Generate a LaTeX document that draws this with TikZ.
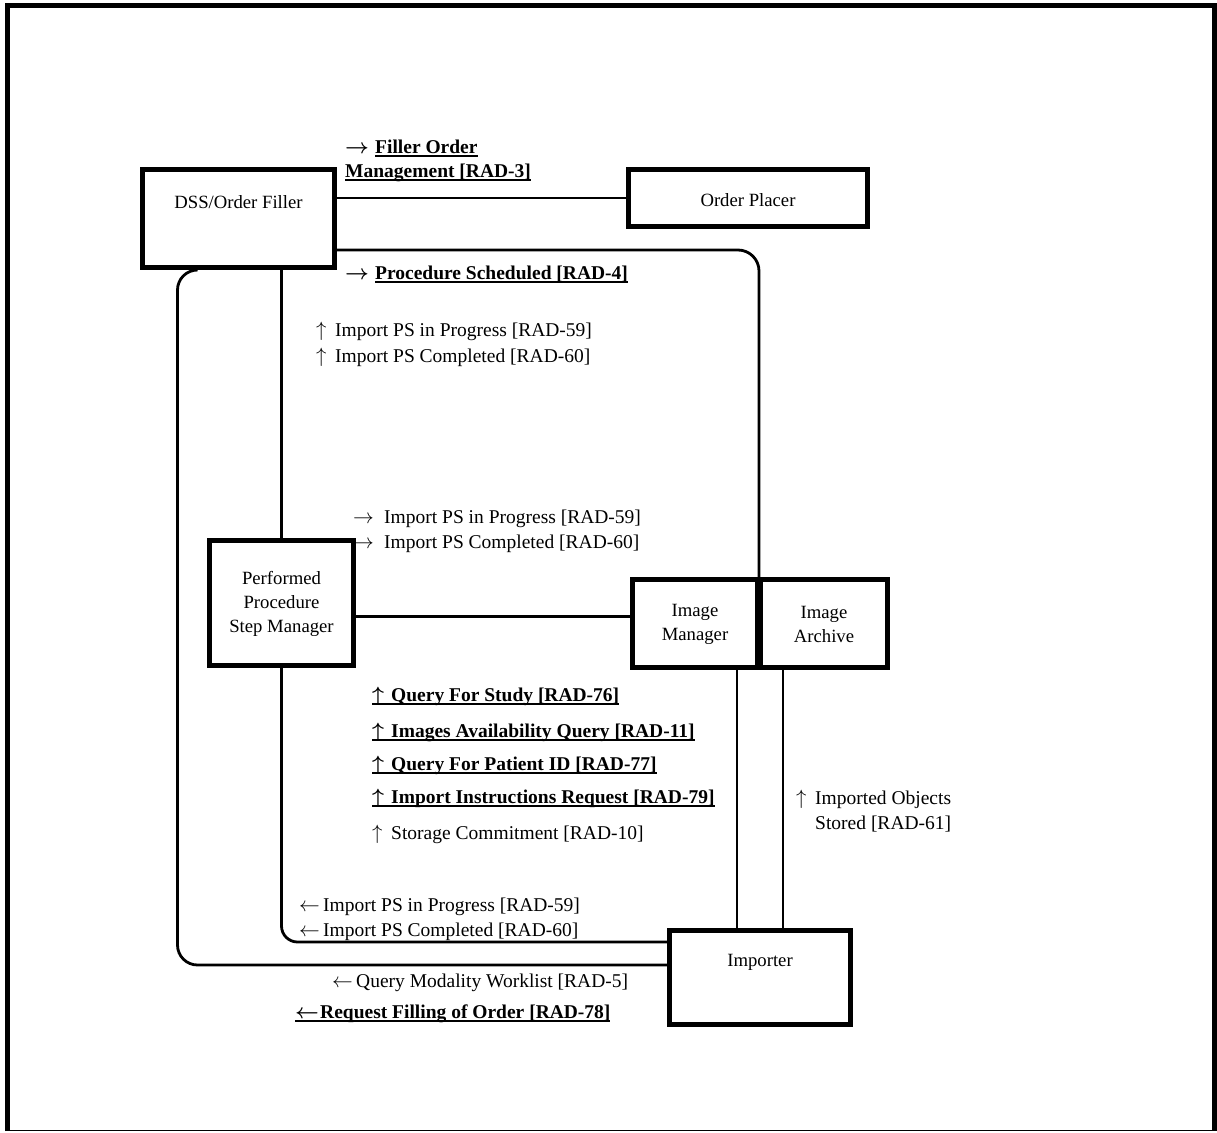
\documentclass[tikz,border=0pt]{standalone}
\usepackage{fontspec}
\setmainfont{Liberation Serif}
\usetikzlibrary{calc}
\newcommand\myul[1]{\setbox0\hbox{#1}\rlap{\rule[-3.2pt]{\wd0}{1.5pt}}\box0}
\newcommand\ra{$\rightarrow$}
\newcommand\la{$\leftarrow$}
\newcommand\ua{$\uparrow$}
\begin{document}
\begin{tikzpicture}[x=1pt,y=-1pt,
  box/.style={draw, line width=5pt, inner sep=0pt},
  boxtxt/.style={align=center, inner sep=0pt, font=\fontsize{18.7}{24}\selectfont},
  conn/.style={line width=2.8pt},
  lbl/.style={anchor=base west, inner sep=0pt, font=\fontsize{19.5}{24}\selectfont},
  blbl/.style={lbl, font=\fontsize{19.5}{24}\selectfont\bfseries\boldmath}]
\useasboundingbox (0,0) rectangle (1217,1132);
% outer frame
\draw[line width=5pt] (7.5,1131) -- (7.5,5.5) -- (1214.5,5.5) -- (1214.5,1131);
\draw[line width=1.5pt] (7.5,1130.5) -- (1214.5,1130.5);

% boxes
\node[box, minimum width=192pt, minimum height=98pt] (dss) at (238.5,218.5) {};
\node[boxtxt] (dsst) at (238.5,202) {DSS/Order Filler};
\node[box, minimum width=239pt, minimum height=57pt] (op) at (748,198) {};
\node[boxtxt] (opt) at (748,200) {Order Placer};
\node[box, minimum width=144pt, minimum height=125pt] (pps) at (281.5,603) {};
\node[boxtxt] (ppst) at (281.5,604) {Performed\\Procedure\\Step Manager};
\node[box, minimum width=125pt, minimum height=88pt] (im) at (695,623.5) {};
\node[boxtxt] (imt) at (695,624) {Image\\Manager};
\node[box, minimum width=127pt, minimum height=88pt] (ia) at (824,623.5) {};
\node[boxtxt] (iat) at (824,624) {Image\\Archive};
\node[box, minimum width=181pt, minimum height=94pt] (imp) at (760,977.5) {};
\node[boxtxt] (impt) at (760,962) {Importer};

% connectors
\draw[conn] (op.west -| dss.east) -- (op.west);
\coordinate (junc) at ($(im.north east)!0.5!(ia.north west)$);
\draw[conn, rounded corners=21pt] ([yshift=-31.5pt]dss.east) -| (junc);
\draw[conn, rounded corners=20pt] ([xshift=57.5pt]dss.south west) -- ([xshift=37.5pt]dss.south west) |- ([yshift=12.5pt]imp.west);
\draw[conn] (dss.south -| pps.north) -- (pps.north);
\draw[conn] ([yshift=-13.5pt]pps.east) -- ([yshift=-13.5pt]pps.east -| im.west);
\draw[conn, rounded corners=16pt] (pps.south) |- ([yshift=35.5pt]imp.west);
\draw[conn] ([xshift=42pt]im.south) -- ([xshift=42pt]im.south |- imp.north);
\draw[conn] ([xshift=-41pt]ia.south) -- ([xshift=-41pt]ia.south |- imp.north);

% labels
\node[blbl] (l1) at (345,153.5) {\makebox[30pt][l]{\ra}\myul{Filler Order}};
\node[blbl] (l2) at (345,177.5) {\myul{Management [RAD-3]}};
\node[blbl] (l3) at (345,279.5) {\makebox[30pt][l]{\ra}\myul{Procedure Scheduled [RAD-4]}};
\node[lbl] (l4) at (316,336.5) {\makebox[19pt][l]{\ua}Import PS in Progress [RAD-59]};
\node[lbl] (l5) at (316,362.5) {\makebox[19pt][l]{\ua}Import PS Completed [RAD-60]};
\node[lbl] (l6) at (353,523.5) {\makebox[31pt][l]{\ra}Import PS in Progress [RAD-59]};
\node[lbl] (l7) at (353,548.5) {\makebox[31pt][l]{\ra}Import PS Completed [RAD-60]};
\node[blbl] (l8) at (372,701.5) {\myul{\makebox[19pt][l]{\ua}Query For Study [RAD-76]}};
\node[blbl] (l9) at (372,737.5) {\myul{\makebox[19pt][l]{\ua}Images Availability Query [RAD-11]}};
\node[blbl] (l10) at (372,770.5) {\myul{\makebox[19pt][l]{\ua}Query For Patient ID [RAD-77]}};
\node[blbl] (l11) at (372,803.5) {\myul{\makebox[19pt][l]{\ua}Import Instructions Request [RAD-79]}};
\node[lbl] (l12) at (372,839.5) {\makebox[19pt][l]{\ua}Storage Commitment [RAD-10]};
\node[lbl] (l13) at (796,804.5) {\makebox[19pt][l]{\ua}Imported Objects};
\node[lbl] (l14) at (815,829.5) {Stored [RAD-61]};
\node[lbl] (l15) at (299,911.5) {\makebox[24pt][l]{\la}Import PS in Progress [RAD-59]};
\node[lbl] (l16) at (299,936.5) {\makebox[24pt][l]{\la}Import PS Completed [RAD-60]};
\node[lbl] (l17) at (332,987.5) {\makebox[24pt][l]{\la}Query Modality Worklist [RAD-5]};
\node[blbl] (l18) at (295,1018.5) {\myul{\makebox[25pt][l]{\la}Request Filling of Order [RAD-78]}};
\end{tikzpicture}
\end{document}
